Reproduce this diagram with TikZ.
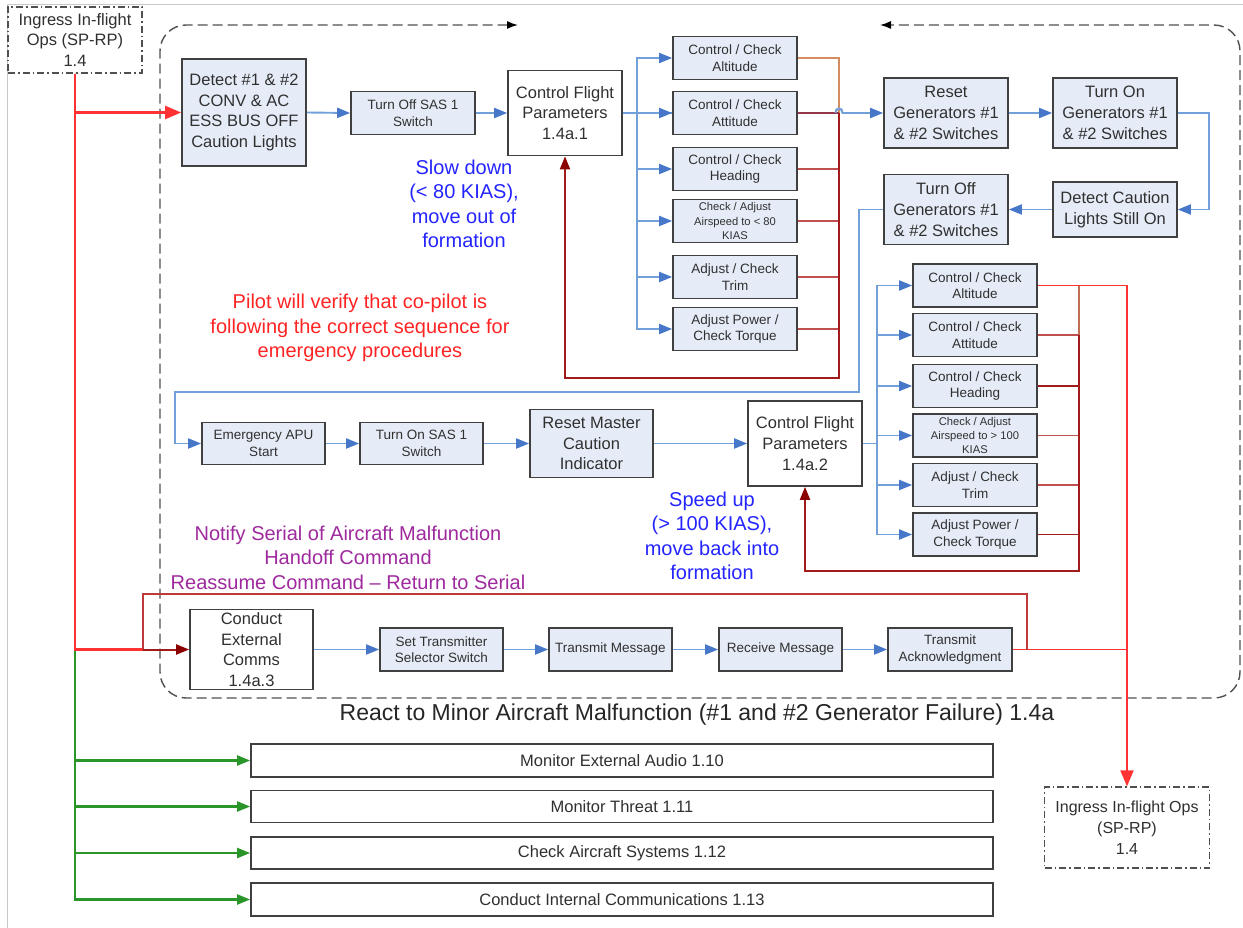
\documentclass[tikz,border=0pt]{standalone}
\usepackage{fontspec}
\setmainfont{Liberation Sans}
\usetikzlibrary{arrows.meta}
\pgfdeclarelayer{background}
\pgfsetlayers{background,main}

\definecolor{boxfill}{HTML}{E6ECF7}
\definecolor{boxline}{HTML}{404040}
\definecolor{boxtext}{HTML}{303030}
\definecolor{framegray}{HTML}{C8C8C8}
\definecolor{dashgray}{HTML}{505050}
\definecolor{blueln}{HTML}{72A0DA}
\definecolor{bluehead}{HTML}{4677C8}
\definecolor{brightred}{HTML}{FF3333}
\definecolor{medred}{HTML}{C0504D}
\definecolor{loopred}{HTML}{BE3A3A}
\definecolor{darkred}{HTML}{A01C1C}
\definecolor{headred}{HTML}{8B0000}
\definecolor{orangeln}{HTML}{D58C5E}
\definecolor{brownln}{HTML}{C07050}
\definecolor{mauveln}{HTML}{96344A}
\definecolor{greenln}{HTML}{2A962A}
\definecolor{annblue}{HTML}{2424FF}
\definecolor{annred}{HTML}{FF2424}
\definecolor{annpurple}{HTML}{9E2A9E}

\tikzset{
  sz/.style 2 args={minimum width=#1pt, minimum height=#2pt},
  box/.style={draw=boxline, line width=1.7pt, fill=boxfill, inner sep=0pt,
    align=center, text=boxtext},
  wbox/.style={box, fill=white},
  fbig/.style={font=\fontsize{16.5}{20.7}\selectfont},
  fsmall/.style={font=\fontsize{13.5}{16.5}\selectfont},
  ftiny/.style={font=\fontsize{11.2}{14.3}\selectfont},
  ingbox/.style={draw=dashgray, line width=1.2pt,
    dash pattern=on 7pt off 3pt on 1.5pt off 3pt, fill=white, inner sep=0pt,
    align=center, text=boxtext},
  ann/.style={align=center, font=\fontsize{20}{24.4}\selectfont},
  bluearr/.style={draw=blueln, line width=1.9pt,
    -{Triangle[length=13pt,width=10pt,color=bluehead]}},
  bluepath/.style={draw=blueln, line width=1.9pt},
  redarr/.style={draw=brightred, line width=2.1pt,
    -{Triangle[length=16pt,width=13pt,color=brightred]}},
  redpath/.style={draw=brightred, line width=2.1pt},
  backarr/.style={draw=darkred, line width=2pt,
    -{Triangle[length=13pt,width=10pt,color=headred]}},
  greenarr/.style={draw=greenln, line width=2.1pt,
    -{Triangle[length=13pt,width=10pt,color=greenln]}},
  retline/.style={line width=1.8pt},
}

\begin{document}
\begin{tikzpicture}[x=1pt,y=-1pt]
\useasboundingbox (0,0) rectangle (1243,928);
\begin{pgfonlayer}{background}
  \fill[white] (0,0) rectangle (1243,928);
\end{pgfonlayer}
\draw[framegray, line width=1pt] (7,928) -- (7,5) -- (1243,5);

% process boundary with the two open ends on top
\draw[dashgray, line width=1.4pt, dash pattern=on 10pt off 5pt, rounded corners=26pt,
  {Latex[length=11pt,width=8pt,color=black]}-{Latex[length=11pt,width=8pt,color=black]}]
  (518,25) -- (160,25) -- (160,698) -- (1240,698) -- (1240,25) -- (880,25);

% ---------- nodes ----------
\node[ingbox, fbig, sz={134}{66}] (ing1) at (75,40) {Ingress In-flight\\Ops (SP-RP)\\1.4};

\node[box, fbig, sz={124}{107}] (detect) at (244,112.5)
  {Detect \#1 \& \#2\\CONV \& AC\\ESS BUS OFF\\Caution Lights};
\node[box, fsmall, sz={124}{43}] (sas1) at (413,113) {Turn Off SAS 1\\Switch};
\node[wbox, fbig, sz={114}{85}] (cfp1) at (565,113) {Control Flight\\Parameters\\1.4a.1};

\node[box, fsmall, sz={124}{43}] (a1) at (735,58)  {Control / Check\\Altitude};
\node[box, fsmall, sz={124}{43}] (a2) at (735,113) {Control / Check\\Attitude};
\node[box, fsmall, sz={124}{43}] (a3) at (735,169) {Control / Check\\Heading};
\node[box, ftiny,  sz={124}{43}] (a4) at (735,221) {Check / Adjust\\Airspeed to < 80\\KIAS};
\node[box, fsmall, sz={124}{43}] (a5) at (735,277) {Adjust / Check\\Trim};
\node[box, fsmall, sz={124}{43}] (a6) at (735,329) {Adjust Power /\\Check Torque};

\node[box, fbig, sz={124}{70}] (reset)   at (946,113)  {Reset\\Generators \#1\\\& \#2 Switches};
\node[box, fbig, sz={124}{70}] (turnon)  at (1115,113) {Turn On\\Generators \#1\\\& \#2 Switches};
\node[box, fbig, sz={124}{55}] (caution) at (1115,209.5) {Detect Caution\\Lights Still On};
\node[box, fbig, sz={124}{70}] (turnoff) at (946,209.5) {Turn Off\\Generators \#1\\\& \#2 Switches};

\node[box, fsmall, sz={123}{42}] (apu)    at (263.5,443.5) {Emergency APU\\Start};
\node[box, fsmall, sz={123}{42}] (sason)  at (421.5,443.5) {Turn On SAS 1\\Switch};
\node[box, fbig,   sz={123}{68}] (master) at (591.5,443.5) {Reset Master\\Caution\\Indicator};
\node[wbox, fbig,  sz={114}{85}] (cfp2)   at (805,443.5) {Control Flight\\Parameters\\1.4a.2};

\node[box, fsmall, sz={124}{43}] (b1) at (975,285.5) {Control / Check\\Altitude};
\node[box, fsmall, sz={124}{43}] (b2) at (975,335)   {Control / Check\\Attitude};
\node[box, fsmall, sz={124}{43}] (b3) at (975,386)   {Control / Check\\Heading};
\node[box, ftiny,  sz={124}{43}] (b4) at (975,435.5) {Check / Adjust\\Airspeed to > 100\\KIAS};
\node[box, fsmall, sz={124}{43}] (b5) at (975,485)   {Adjust / Check\\Trim};
\node[box, fsmall, sz={124}{43}] (b6) at (975,534.5) {Adjust Power /\\Check Torque};

\node[wbox, fbig,  sz={123}{80}] (ext)   at (251.5,649.5) {Conduct\\External\\Comms\\1.4a.3};
\node[box, fsmall, sz={123}{43}] (settx) at (441.5,649.5) {Set Transmitter\\Selector Switch};
\node[box, fsmall, sz={123}{43}] (txmsg) at (610.5,649.5) {Transmit Message};
\node[box, fsmall, sz={123}{43}] (rxmsg) at (780.5,649.5) {Receive Message};
\node[box, fsmall, sz={124}{43}] (txack) at (950,649.5)   {Transmit\\Acknowledgment};

\node[ingbox, font=\fontsize{16}{21}\selectfont, sz={165}{81}] (ing2) at (1127,827.5)
  {Ingress In-flight Ops\\(SP-RP)\\1.4};

\node[wbox, font=\fontsize{16.5}{18}\selectfont, sz={742}{33}] (m1) at (622,760.5) {Monitor External Audio 1.10};
\node[wbox, font=\fontsize{16.5}{18}\selectfont, sz={742}{32}] (m2) at (622,806.5) {Monitor Threat 1.11};
\node[wbox, font=\fontsize{16.5}{18}\selectfont, sz={742}{32}] (m3) at (622,853)   {Check Aircraft Systems 1.12};
\node[wbox, font=\fontsize{16.5}{18}\selectfont, sz={742}{33}] (m4) at (622,899.5) {Conduct Internal Communications 1.13};

% ---------- free text ----------
\node[ann, text=annblue] (slow) at (464,204) {Slow down\\(< 80 KIAS),\\move out of\\formation};
\node[ann, text=annred] (verify) at (360,328)
  {Pilot will verify that co-pilot is\\following the correct sequence for\\emergency procedures};
\node[ann, text=annpurple] (notify) at (348,557.5)
  {Notify Serial of Aircraft Malfunction\\Handoff Command\\Reassume Command – Return to Serial};
\node[ann, text=annblue] (speed) at (712,536) {Speed up\\(> 100 KIAS),\\move back into\\formation};
\node[font=\fontsize{23}{26}\selectfont, text=black!85] (title) at (697,715)
  {React to Minor Aircraft Malfunction (\#1 and \#2 Generator Failure) 1.4a};

% ---------- junction points ----------
\coordinate (jA) at (637,113);
\coordinate (rA) at (839,378);
\coordinate (cL) at (859,392);
\coordinate (cM) at (175,392);
\coordinate (jB) at (877,443.5);
\coordinate (rC) at (1079,571);
\coordinate (rD) at (1027,594);
\coordinate (rE) at (143,594);

% ---------- entry from Ingress ----------
\foreach \m in {m1,m2,m3,m4}
  \draw[greenarr] (ing1.south) |- (\m.west);
\draw[redpath] (ing1.south) |- (rE |- ext.west);
\draw[redarr] (ing1.south) |- (detect.west);

% ---------- first sequence ----------
\begin{pgfonlayer}{background}
  \draw[bluearr] (cfp1.east) -- (835.5,113)
    .. controls (835.5,107) and (842.5,107) .. (842.5,113) -- (reset.west);
\end{pgfonlayer}
\draw[bluearr] (detect.east) -- (sas1.west);
\draw[bluearr] (sas1.east) -- (cfp1.west);
\foreach \a in {a1,a2,a3,a4,a5,a6}
  \draw[bluearr] (cfp1.east) -- (jA) |- (\a.west);

\draw[orangeln, retline] (a1.east) -- (a1.east -| rA) -- (a2.east -| rA);
\draw[mauveln, retline] (a2.east) -- (a2.east -| rA);
\foreach \a in {a3,a4,a5,a6}
  \draw[medred, retline] (\a.east) -- (\a.east -| rA);
\draw[backarr] (a2.east -| rA) -- (rA) -| (cfp1.south);
\draw[bluepath] (835.5,113) .. controls (835.5,107) and (842.5,107) .. (842.5,113);

% ---------- generator reset loop ----------
\draw[bluearr] (reset.east) -- (turnon.west);
\draw[bluearr] (turnon.east) -- ++(31,0) |- (caution.east);
\draw[bluearr] (caution.west) -- (turnoff.east);
\draw[bluearr] (turnoff.west) -| (cL) -- (cM) |- (apu.west);

% ---------- second sequence ----------
\draw[bluearr] (apu.east) -- (sason.west);
\draw[bluearr] (sason.east) -- (master.west);
\draw[bluearr] (master.east) -- (cfp2.west);
\foreach \b in {b1,b2,b3,b4,b5,b6}
  \draw[bluearr] (cfp2.east) -- (jB) |- (\b.west);

\draw[brownln, retline] (b1.east -| rC) -- (b2.east -| rC);
\foreach \b in {b2,b4,b5}
  \draw[medred, retline] (\b.east) -- (\b.east -| rC);
\foreach \b in {b3,b6}
  \draw[darkred, retline] (\b.east) -- (\b.east -| rC);
\draw[backarr] (b2.east -| rC) -- (rC) -| (cfp2.south);
\draw[redarr, line width=1.9pt] (b1.east) -| (ing2.north);

% ---------- external communications ----------
\draw[bluearr] (ext.east) -- (settx.west);
\draw[bluearr] (settx.east) -- (txmsg.west);
\draw[bluearr] (txmsg.east) -- (rxmsg.west);
\draw[bluearr] (rxmsg.east) -- (txack.west);
\draw[redpath, line width=1.9pt] (txack.east) -- (txack.east -| ing2.north);
\draw[loopred, retline] (txack.east -| rD) -- (rD) -- (rE) -- (rE |- ext.west);
\draw[backarr] (rE |- ext.west) -- (ext.west);

\end{tikzpicture}
\end{document}
